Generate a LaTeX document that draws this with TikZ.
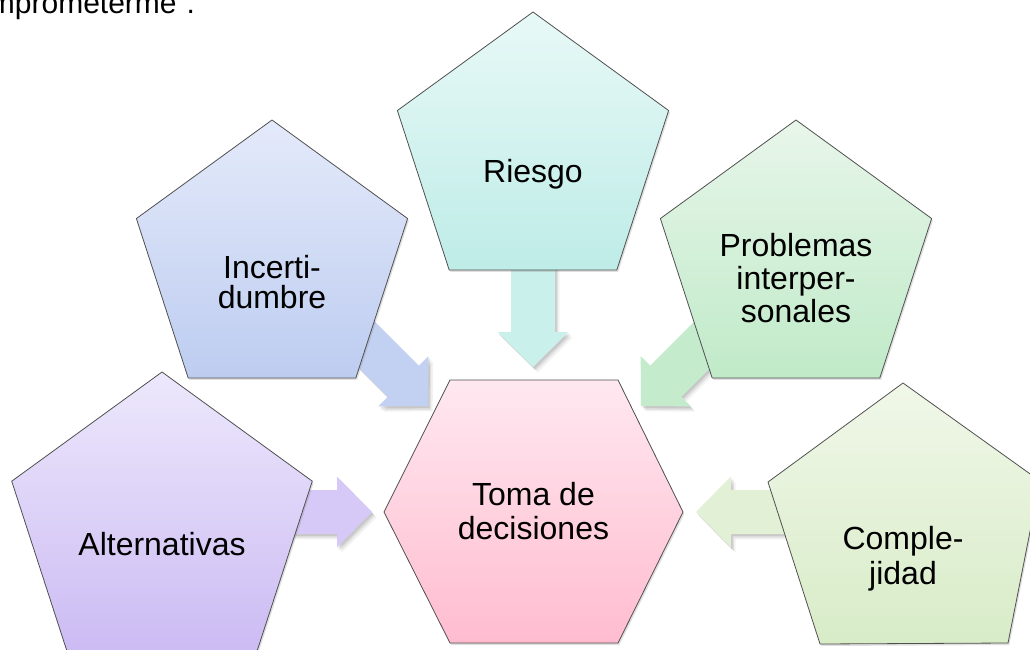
\documentclass[tikz,border=0pt]{standalone}
\usepackage{fontspec}
\setmainfont{Liberation Sans}
\usetikzlibrary{shapes.geometric,shadows}
\definecolor{edgegray}{RGB}{80,80,80}
\definecolor{pinkT}{RGB}{255,232,240}\definecolor{pinkB}{RGB}{255,188,208}
\definecolor{cyanT}{RGB}{232,249,247}\definecolor{cyanB}{RGB}{190,236,231}
\definecolor{blueT}{RGB}{228,234,250}\definecolor{blueB}{RGB}{189,204,240}
\definecolor{greenT}{RGB}{232,246,234}\definecolor{greenB}{RGB}{192,234,200}
\definecolor{purpT}{RGB}{237,232,252}\definecolor{purpB}{RGB}{203,186,243}
\definecolor{limeT}{RGB}{240,247,232}\definecolor{limeB}{RGB}{216,236,200}
\definecolor{arrCyan}{RGB}{202,240,236}
\definecolor{arrBlue}{RGB}{194,208,242}
\definecolor{arrGreen}{RGB}{196,236,204}
\definecolor{arrPurp}{RGB}{214,200,247}
\definecolor{arrLime}{RGB}{226,240,214}
\newcommand\blockarrow[4]{%
  \fill[black, opacity=0.05, shift={(#1)}, xshift=3.5pt, yshift=-4pt, rotate=#2]
    (0,0) -- (-35,35.5) -- (-35,22) -- (-#3,22) -- (-#3,-22) -- (-35,-22) -- (-35,-35.5) -- cycle;
  \fill[black, opacity=0.08, shift={(#1)}, xshift=2.2pt, yshift=-2.8pt, rotate=#2]
    (0,0) -- (-35,35.5) -- (-35,22) -- (-#3,22) -- (-#3,-22) -- (-35,-22) -- (-35,-35.5) -- cycle;
  \fill[black, opacity=0.10, shift={(#1)}, xshift=1.2pt, yshift=-1.6pt, rotate=#2]
    (0,0) -- (-35,35.5) -- (-35,22) -- (-#3,22) -- (-#3,-22) -- (-35,-22) -- (-35,-35.5) -- cycle;
  \fill[#4, shift={(#1)}, rotate=#2]
    (0,0) -- (-35,35.5) -- (-35,22) -- (-#3,22) -- (-#3,-22) -- (-35,-22) -- (-35,-35.5) -- cycle;
}
\begin{document}
\begin{tikzpicture}[x=0.75pt,y=-0.75pt,
  shapeshadow/.style={drop shadow={opacity=0.25,shadow xshift=1pt,shadow yshift=-1.5pt}},
  pent/.style={regular polygon, regular polygon sides=5, inner sep=0pt,
    draw=edgegray, line width=0.6pt, shapeshadow},
  lbl/.style={font=\fontsize{24pt}{26pt}\selectfont, align=center, inner sep=0pt, text=black},
]
\useasboundingbox (0,0) rectangle (1030,649);
\fill[white] (0,0) rectangle (1030,649);
\clip (0,0) rectangle (1030,649);

% arrow tips
\coordinate (tipR) at (533,367);
\coordinate (tipI) at (428,406);
\coordinate (tipP) at (641,406);
\coordinate (tipA) at (372,512);
\coordinate (tipC) at (696,512);

% block arrows (behind the pentagons)
\blockarrow{tipR}{-90}{115}{arrCyan}
\blockarrow{tipI}{-45}{130}{arrBlue}
\blockarrow{tipP}{-135}{130}{arrGreen}
\blockarrow{tipA}{0}{92}{arrPurp}
\blockarrow{tipC}{180}{104}{arrLime}

% pentagons
\node[pent, minimum size={285.2*0.75pt}, top color=cyanT, bottom color=cyanB] (riesgo) at (533,154.6) {};
\node[pent, minimum size={285.2*0.75pt}, top color=blueT, bottom color=blueB] (incert) at (272,262.6) {};
\node[pent, minimum size={285.2*0.75pt}, top color=greenT, bottom color=greenB] (probl) at (796,262.6) {};
\node[pent, minimum size={316*0.75pt}, top color=purpT, bottom color=purpB] (altern) at (162,530) {};

% Complejidad pentagon (partly beyond the right edge)
\coordinate (c1) at (903,383);
\coordinate (c2) at (1040,481);
\coordinate (c3) at (1008,643);
\coordinate (c4) at (820,644);
\coordinate (c5) at (768,482);
\path[draw=edgegray, line width=0.6pt, top color=limeT, bottom color=limeB, shapeshadow]
  (c1) -- (c2) -- (c3) -- (c4) -- (c5) -- cycle;

% hexagon
\coordinate (h1) at (450,380);
\coordinate (h2) at (618,380);
\coordinate (h3) at (683,512);
\coordinate (h4) at (618,643);
\coordinate (h5) at (450,643);
\coordinate (h6) at (384,512);
\path[draw=edgegray, line width=0.6pt, top color=pinkT, bottom color=pinkB, shapeshadow]
  (h1) -- (h2) -- (h3) -- (h4) -- (h5) -- (h6) -- cycle;

% labels
\node[lbl] (t-riesgo) at (533,174) {Riesgo};
\node[lbl, font=\fontsize{24pt}{22.5pt}\selectfont] (t-incert) at (272,282) {Incerti-\\dumbre};
\node[lbl, font=\fontsize{24pt}{24.5pt}\selectfont] (t-probl) at (796,278) {Problemas\\interper-\\sonales};
\node[lbl, font=\fontsize{24pt}{25pt}\selectfont] (t-toma) at (533.5,511) {Toma de\\decisiones};
\node[lbl] (t-altern) at (162,544.5) {Alternativas};
\node[lbl, font=\fontsize{24pt}{26pt}\selectfont] (t-complej) at (903,559) {Comple-\\jidad};

% cut-off text at the top
\node[anchor=base west, inner sep=0pt, font=\fontsize{22.5pt}{26pt}\selectfont] (toptext) at (-42,14) {comprometerme”.};
\end{tikzpicture}
\end{document}
